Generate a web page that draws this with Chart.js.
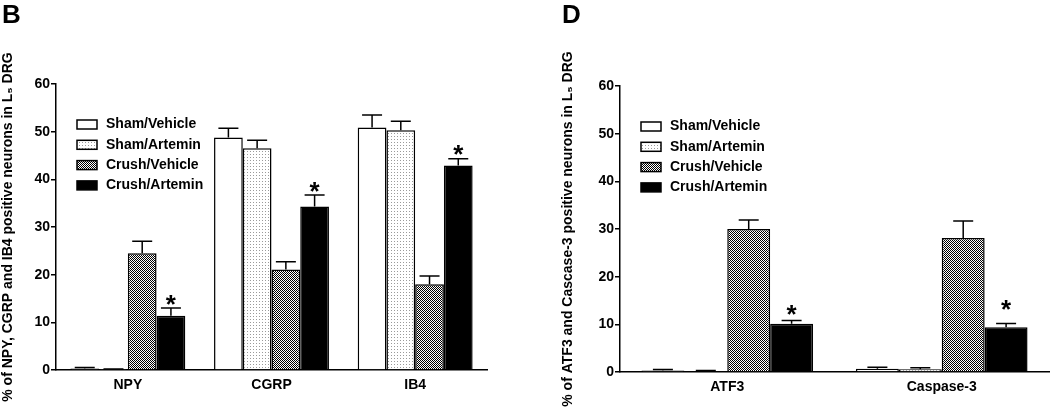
<!DOCTYPE html>
<html><head><meta charset="utf-8">
<script src="https://cdn.jsdelivr.net/npm/chart.js@4.4.1/dist/chart.umd.min.js"></script>
<style>
html,body{margin:0;padding:0;background:#fff;}
#wrap{position:relative;width:1050px;height:408px;overflow:hidden;background:#fff;}
.panel{position:absolute;top:0;}
</style></head><body>
<div id="wrap">
<div class="panel" style="left:0;width:525px;height:408px"><canvas id="c1" width="525" height="408"></canvas></div>
<div class="panel" style="left:560px;width:490px;height:408px"><canvas id="c2" width="490" height="408"></canvas></div>
</div>
<script>
// ---------- data ----------
const seriesLabels = ['Sham/Vehicle', 'Sham/Artemin', 'Crush/Vehicle', 'Crush/Artemin'];

const leftCategories = ['NPY', 'CGRP', 'IB4'];
const leftShamVehicle = [0.3, 48.8, 50.9];
const leftShamVehicleErr = [0.2, 1.9, 2.6];
const leftShamArtemin = [0.1, 46.5, 50.3];
const leftShamArteminErr = [0.1, 1.7, 1.9];
const leftCrushVehicle = [24.5, 21.1, 18.0];
const leftCrushVehicleErr = [2.5, 1.6, 1.7];
const leftCrushArtemin = [11.4, 34.3, 42.9];
const leftCrushArteminErr = [1.6, 2.4, 1.4];
const leftStars = [15.1, 38.8, 46.6];

const rightCategories = ['ATF3', 'Caspase-3'];
const rightShamVehicle = [0.3, 0.7];
const rightShamVehicleErr = [0.2, 0.3];
const rightShamArtemin = [0.2, 0.6];
const rightShamArteminErr = [0.1, 0.3];
const rightCrushVehicle = [30.0, 28.1];
const rightCrushVehicleErr = [1.9, 3.6];
const rightCrushArtemin = [10.1, 9.4];
const rightCrushArteminErr = [0.7, 0.8];
const rightStars = [13.4, 14.5];

const yTicksMin = 0, yTicksMax = 60, yTicksStep = 10;
const leftYTitle = '% of NPY, CGRP and IB4 positive neurons in L\u2085 DRG';
const rightYTitle = '% of ATF3 and Cascase-3 positive neurons in L\u2085 DRG';

// ---------- styling ----------
const FONT = '"Liberation Sans", Arial, Helvetica, sans-serif';

function makePattern(ctx, kind) {
  const c = document.createElement('canvas');
  const x = c.getContext('2d');
  if (kind === 'check') {
    c.width = 2; c.height = 2;
    x.fillStyle = '#fff'; x.fillRect(0, 0, 2, 2);
    x.fillStyle = '#000'; x.fillRect(0, 0, 1, 1); x.fillRect(1, 1, 1, 1);
  } else {
    c.width = 3; c.height = 3;
    x.fillStyle = '#fff'; x.fillRect(0, 0, 3, 3);
    x.fillStyle = '#9a9a9a'; x.fillRect(1, 1, 1, 1);
  }
  return ctx.createPattern(c, 'repeat');
}

const panelPlugin = {
  id: 'panelDecor',
  afterDatasetsDraw(chart, args, opts) {
    const ctx = chart.ctx;
    const y = chart.scales.y;
    ctx.save();
    chart.data.datasets.forEach((ds, i) => {
      const meta = chart.getDatasetMeta(i);
      meta.data.forEach((bar, j) => {
        const yb = y.getPixelForValue(ds.data[j]);
        const yt = y.getPixelForValue(ds.data[j] + ds.errors[j]);
        ctx.strokeStyle = '#000';
        ctx.lineWidth = 1.5;
        ctx.beginPath();
        ctx.moveTo(bar.x, yb); ctx.lineTo(bar.x, yt);
        ctx.moveTo(bar.x - opts.cap / 2, yt); ctx.lineTo(bar.x + opts.cap / 2, yt);
        ctx.stroke();
        if (ds.stars && ds.stars[j] != null) {
          const sz = 26;
          ctx.font = 'bold ' + sz + 'px ' + FONT;
          ctx.fillStyle = '#000';
          ctx.textAlign = 'center';
          ctx.textBaseline = 'alphabetic';
          ctx.fillText('*', bar.x, y.getPixelForValue(ds.stars[j]) + 0.57 * sz);
        }
      });
    });
    // legend
    const a = chart.chartArea;
    chart.data.datasets.forEach((ds, i) => {
      const cy = a.top + opts.legTop + i * 20.3;
      const bx = a.left + opts.legBox;
      ctx.fillStyle = ds.backgroundColor;
      ctx.fillRect(bx, cy - 4.5, 20, 9);
      ctx.strokeStyle = '#000'; ctx.lineWidth = 1.5;
      ctx.strokeRect(bx, cy - 4.5, 20, 9);
      ctx.fillStyle = '#000';
      ctx.font = 'bold 14px ' + FONT;
      ctx.textAlign = 'left';
      ctx.textBaseline = 'middle';
      ctx.fillText(ds.label, a.left + opts.legText, cy);
    });
    // panel letter
    ctx.font = 'bold 26px ' + FONT;
    ctx.fillStyle = '#000';
    ctx.textAlign = 'left';
    ctx.textBaseline = 'alphabetic';
    ctx.fillText(opts.letter, 2, 23);
    ctx.restore();
  }
};

function buildChart(canvasId, cats, sets, errs, stars, title, yWidth, xHeight, padTop, padRight, letter) {
  const canvas = document.getElementById(canvasId);
  const ctx = canvas.getContext('2d');
  const fills = ['#ffffff', makePattern(ctx, 'dots'), makePattern(ctx, 'check'), '#000000'];
  const datasets = sets.map((d, i) => ({
    label: seriesLabels[i],
    data: d,
    errors: errs[i],
    stars: i === 3 ? stars : null,
    backgroundColor: fills[i],
    borderColor: '#000',
    borderWidth: 1.5,
    barPercentage: 1.0,
    categoryPercentage: 0.8
  }));
  return new Chart(ctx, {
    type: 'bar',
    data: { labels: cats, datasets },
    plugins: [panelPlugin],
    options: {
      responsive: false,
      animation: false,
      devicePixelRatio: 1,
      layout: { padding: { top: padTop, right: padRight, bottom: 0, left: 0 } },
      plugins: {
        legend: { display: false },
        tooltip: { enabled: false },
        panelDecor: { cap: 20, legTop: 40.5, legBox: 21, legText: 50, letter }
      },
      scales: {
        x: {
          grid: { display: false, drawTicks: false },
          border: { display: true, color: '#000', width: 1.5 },
          ticks: { color: '#000', font: { family: FONT, size: 14, weight: 'bold' }, padding: 7 },
          afterFit(s) { s.height = xHeight; }
        },
        y: {
          min: yTicksMin, max: yTicksMax,
          ticks: { stepSize: yTicksStep, color: '#000', font: { family: FONT, size: 14, weight: 'bold' }, padding: 1 },
          grid: { display: true, drawOnChartArea: false, drawTicks: true, tickLength: 5, color: '#000', lineWidth: 1.5 },
          border: { display: true, color: '#000', width: 1.5 },
          title: { display: true, text: title, color: '#000', font: { family: FONT, size: 14, weight: 'bold' }, padding: { top: 0, bottom: 0 } },
          afterFit(s) { s.width = yWidth; }
        }
      }
    }
  });
}

buildChart('c1', leftCategories,
  [leftShamVehicle, leftShamArtemin, leftCrushVehicle, leftCrushArtemin],
  [leftShamVehicleErr, leftShamArteminErr, leftCrushVehicleErr, leftCrushArteminErr],
  leftStars, leftYTitle, 56, 38, 84, 38, 'B');

buildChart('c2', rightCategories,
  [rightShamVehicle, rightShamArtemin, rightCrushVehicle, rightCrushArtemin],
  [rightShamVehicleErr, rightShamArteminErr, rightCrushVehicleErr, rightCrushArteminErr],
  rightStars, rightYTitle, 60, 36, 86, 1, 'D');
</script>
</body></html>
